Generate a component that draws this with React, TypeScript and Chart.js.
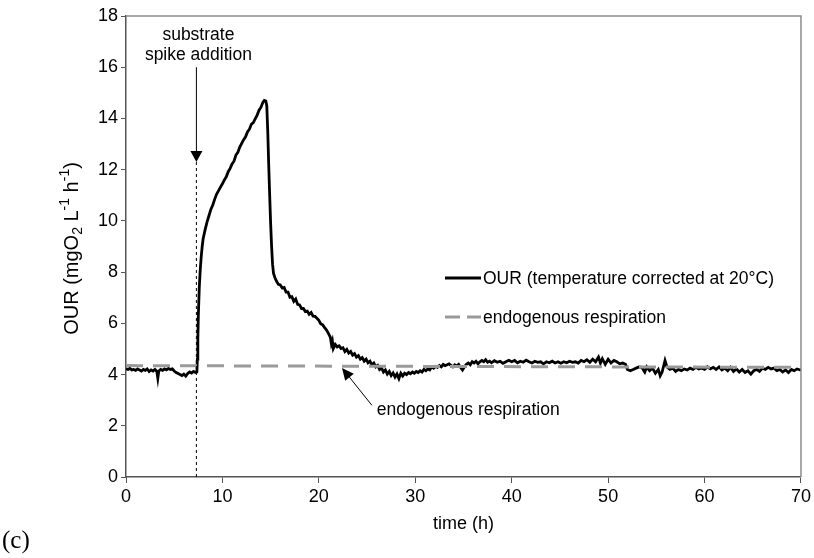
import { useEffect, useRef } from "react";
import { Chart, registerables } from "chart.js";

Chart.register(...registerables);

const SANS = '"Liberation Sans", Arial, Helvetica, sans-serif';
const SERIF = '"Liberation Serif", "Times New Roman", serif';

// ---- data ----
const xTicks = [0, 10, 20, 30, 40, 50, 60, 70];
const yTicks = [0, 2, 4, 6, 8, 10, 12, 14, 16, 18];

const seriesLabels = ["OUR (temperature corrected at 20°C)", "endogenous respiration"];

// OUR before the spike (time h, value)
const ourBaseline: number[][] = [
  [0.0, 4.22], [0.2, 4.2], [0.4, 4.24], [0.6, 4.18], [0.8, 4.2], [1.0, 4.16], [1.2, 4.22], [1.4, 4.18],
  [1.6, 4.14], [1.8, 4.2], [2.0, 4.16], [2.2, 4.22], [2.4, 4.12], [2.6, 4.18], [2.8, 4.14], [3.0, 4.2],
  [3.2, 4.12], [3.3, 3.86], [3.4, 4.14], [3.6, 4.2], [3.8, 4.16], [4.0, 4.22], [4.2, 4.18], [4.4, 4.24],
  [4.6, 4.2], [4.8, 4.22], [5.0, 4.14], [5.2, 4.08], [5.4, 4.04], [5.6, 4.0], [5.8, 3.96], [6.0, 4.02],
  [6.2, 3.94], [6.4, 4.04], [6.6, 4.1], [6.8, 4.06], [7.0, 4.12], [7.2, 4.08], [7.35, 4.1],
];

// OUR rise after the spike, peak and fall
const ourPeak: number[][] = [
  [7.4, 4.6], [7.45, 5.4], [7.5, 6.3], [7.6, 7.4], [7.7, 8.1], [7.8, 8.6], [7.9, 9.0], [8.0, 9.3],
  [8.2, 9.65], [8.4, 9.95], [8.6, 10.2], [8.8, 10.45], [9.0, 10.62], [9.2, 10.85], [9.4, 11.05],
  [9.6, 11.18], [9.8, 11.32], [10.0, 11.45], [10.2, 11.6], [10.4, 11.72], [10.6, 11.92], [10.8, 12.05],
  [11.0, 12.22], [11.2, 12.33], [11.4, 12.57], [11.6, 12.68], [11.8, 12.88], [12.0, 13.03], [12.2, 13.17],
  [12.4, 13.28], [12.6, 13.47], [12.8, 13.58], [13.0, 13.77], [13.2, 13.84], [13.4, 13.98], [13.6, 14.13],
  [13.8, 14.32], [14.0, 14.44], [14.2, 14.63], [14.35, 14.7], [14.5, 14.68], [14.6, 14.5], [14.7, 13.5],
  [14.8, 12.2], [14.9, 11.0], [15.0, 9.9], [15.1, 9.0], [15.2, 8.3], [15.3, 7.95], [15.45, 7.78],
];

// OUR decay back to the endogenous level
const ourDecay: number[][] = [
  [15.6, 7.65], [15.8, 7.52], [16.0, 7.5], [16.2, 7.38], [16.4, 7.4], [16.6, 7.22], [16.8, 7.22],
  [17.0, 7.02], [17.2, 7.04], [17.4, 6.86], [17.6, 6.95], [17.8, 6.74], [18.0, 6.72], [18.2, 6.58],
  [18.4, 6.58], [18.6, 6.46], [18.8, 6.48], [19.0, 6.35], [19.2, 6.42], [19.4, 6.28], [19.6, 6.27],
  [19.8, 6.2], [20.0, 6.12], [20.2, 5.98], [20.4, 5.94], [20.6, 5.83], [20.8, 5.74], [21.0, 5.6],
  [21.2, 5.45], [21.3, 5.2], [21.4, 5.32], [21.5, 5.02], [21.7, 5.18], [21.9, 5.08], [22.1, 5.12],
  [22.3, 5.02], [22.5, 5.05], [22.7, 4.9], [22.9, 4.98], [23.1, 4.84], [23.3, 4.9], [23.5, 4.76],
  [23.7, 4.82], [23.9, 4.68], [24.1, 4.74], [24.3, 4.6], [24.5, 4.66], [24.7, 4.52], [24.9, 4.6],
  [25.1, 4.46], [25.3, 4.52], [25.5, 4.38], [25.7, 4.45], [25.9, 4.3], [26.1, 4.36], [26.3, 4.2],
  [26.5, 4.26], [26.7, 4.1], [26.9, 4.18], [27.1, 4.02], [27.3, 4.12], [27.5, 3.96], [27.7, 4.06],
  [27.9, 3.9], [28.1, 4.02], [28.3, 3.84], [28.5, 4.05], [28.7, 3.94], [28.9, 4.05],
];

// OUR tail at endogenous level
const ourTail: number[][] = [
  [29.1, 4.0], [29.3, 4.08], [29.5, 4.03], [29.7, 4.1], [29.9, 4.05], [30.1, 4.12], [30.3, 4.08],
  [30.5, 4.15], [30.7, 4.1], [30.9, 4.2], [31.1, 4.15], [31.3, 4.22], [31.5, 4.18], [31.7, 4.3],
  [31.9, 4.25], [32.1, 4.32], [32.3, 4.28], [32.5, 4.35], [32.7, 4.3], [32.9, 4.4], [33.1, 4.35],
  [33.3, 4.38], [33.5, 4.42], [33.7, 4.36], [33.9, 4.3], [34.1, 4.38], [34.3, 4.33], [34.5, 4.4],
  [34.7, 4.28], [34.9, 4.18], [35.1, 4.3], [35.3, 4.4], [35.5, 4.45], [35.7, 4.38], [35.9, 4.5],
  [36.1, 4.45], [36.3, 4.52], [36.5, 4.42], [36.7, 4.5], [36.9, 4.55], [37.1, 4.5], [37.3, 4.58],
  [37.5, 4.48], [37.7, 4.52], [37.9, 4.46], [38.2, 4.54], [38.5, 4.48], [38.8, 4.52], [39.1, 4.44],
  [39.4, 4.5], [39.7, 4.56], [40.0, 4.5], [40.3, 4.55], [40.6, 4.46], [40.9, 4.52], [41.2, 4.48],
  [41.5, 4.56], [41.8, 4.5], [42.1, 4.45], [42.4, 4.52], [42.7, 4.48], [43.0, 4.5], [43.3, 4.42],
  [43.6, 4.5], [43.9, 4.46], [44.2, 4.52], [44.5, 4.45], [44.8, 4.5], [45.1, 4.44], [45.4, 4.5],
  [45.7, 4.46], [46.0, 4.52], [46.3, 4.48], [46.6, 4.5], [46.9, 4.45], [47.2, 4.55], [47.5, 4.5],
  [47.8, 4.58], [48.1, 4.48], [48.4, 4.6], [48.7, 4.5], [49.0, 4.68], [49.2, 4.45], [49.4, 4.62],
  [49.7, 4.4], [50.0, 4.6], [50.3, 4.45], [50.6, 4.55], [50.9, 4.5], [51.2, 4.42], [51.5, 4.45],
  [51.8, 4.4], [52.0, 4.2], [52.3, 4.15], [52.6, 4.2], [52.9, 4.25], [53.2, 4.3], [53.5, 4.28],
  [53.8, 4.1], [54.0, 4.3], [54.3, 4.15], [54.6, 4.25], [54.9, 4.05], [55.2, 4.2], [55.4, 3.95],
  [55.6, 4.1], [55.9, 4.55], [56.1, 4.3], [56.4, 4.2], [56.7, 4.25], [57.0, 4.12], [57.3, 4.2],
  [57.6, 4.15], [57.9, 4.22], [58.2, 4.18], [58.5, 4.25], [58.8, 4.2], [59.1, 4.28], [59.4, 4.22],
  [59.7, 4.25], [60.0, 4.2], [60.3, 4.3], [60.6, 4.22], [60.9, 4.28], [61.2, 4.2], [61.5, 4.3],
  [61.8, 4.18], [62.1, 4.25], [62.4, 4.15], [62.7, 4.28], [63.0, 4.12], [63.3, 4.22], [63.6, 4.1],
  [63.9, 4.2], [64.2, 4.08], [64.5, 4.15], [64.8, 4.02], [65.1, 4.15], [65.4, 4.2], [65.7, 4.12],
  [66.0, 4.25], [66.3, 4.2], [66.6, 4.28], [66.9, 4.22], [67.2, 4.25], [67.5, 4.15], [67.8, 4.2],
  [68.1, 4.1], [68.4, 4.18], [68.7, 4.08], [69.0, 4.2], [69.3, 4.15], [69.6, 4.22], [69.9, 4.18],
  [70.0, 4.2],
];

// endogenous respiration level (time h, value)
const endogenous: number[][] = [[0, 4.35], [70, 4.28]];

// annotation anchors (data coordinates)
const spikeTime = 7.3;
const spikeArrowFrom = 16.0;
const spikeArrowTo = 12.3;
const endoArrowTail = [25.5, 2.8];
const endoArrowTip = [22.4, 4.26];
const endoLabelAt = [26.0, 2.62];

const toPoints = (arr: number[][]) => arr.map(([x, y]) => ({ x, y }));

function arrowHead(ctx: CanvasRenderingContext2D, x0: number, y0: number, x1: number, y1: number, len: number, half: number) {
  const a = Math.atan2(y1 - y0, x1 - x0);
  ctx.beginPath();
  ctx.moveTo(x1, y1);
  ctx.lineTo(x1 - len * Math.cos(a) + half * Math.sin(a), y1 - len * Math.sin(a) - half * Math.cos(a));
  ctx.lineTo(x1 - len * Math.cos(a) - half * Math.sin(a), y1 - len * Math.sin(a) + half * Math.cos(a));
  ctx.closePath();
  ctx.fill();
}

const TEXT_FONT = `17.5px ${SANS}`;

const decorPlugin = {
  id: "decor",
  afterDatasetsDraw(chart: any) {
    const ctx: CanvasRenderingContext2D = chart.ctx;
    const xs = chart.scales.x;
    const ys = chart.scales.y;
    const area = chart.chartArea;
    ctx.save();

    // frame top & right
    ctx.strokeStyle = "#8c8c8c";
    ctx.lineWidth = 1.5;
    ctx.beginPath();
    ctx.moveTo(area.left, area.top);
    ctx.lineTo(area.right, area.top);
    ctx.lineTo(area.right, area.bottom);
    ctx.stroke();

    // spike annotation
    const sx = xs.getPixelForValue(spikeTime);
    const yFrom = ys.getPixelForValue(spikeArrowFrom);
    const yTo = ys.getPixelForValue(spikeArrowTo);
    ctx.strokeStyle = "#000";
    ctx.fillStyle = "#000";
    ctx.lineWidth = 1;
    ctx.setLineDash([3, 3]);
    ctx.beginPath();
    ctx.moveTo(sx, yTo);
    ctx.lineTo(sx, ys.getPixelForValue(0));
    ctx.stroke();
    ctx.setLineDash([]);
    ctx.beginPath();
    ctx.moveTo(sx, yFrom);
    ctx.lineTo(sx, yTo - 8);
    ctx.stroke();
    arrowHead(ctx, sx, yFrom, sx, yTo, 11, 6);

    ctx.font = TEXT_FONT;
    ctx.textAlign = "center";
    ctx.textBaseline = "middle";
    ctx.fillText("substrate", sx + 2, 35);
    ctx.fillText("spike addition", sx + 2, 55);

    // endogenous annotation
    const tx = xs.getPixelForValue(endoArrowTail[0]);
    const ty = ys.getPixelForValue(endoArrowTail[1]);
    const hx = xs.getPixelForValue(endoArrowTip[0]);
    const hy = ys.getPixelForValue(endoArrowTip[1]);
    ctx.beginPath();
    ctx.moveTo(tx, ty);
    ctx.lineTo(hx + (tx - hx) * 0.2, hy + (ty - hy) * 0.2);
    ctx.stroke();
    arrowHead(ctx, tx, ty, hx, hy, 12, 5.5);
    ctx.textAlign = "left";
    ctx.fillText("endogenous respiration", xs.getPixelForValue(endoLabelAt[0]), ys.getPixelForValue(endoLabelAt[1]));

    // legend
    const ds = chart.data.datasets;
    const legendX = 445;
    const legendY = [278, 317];
    const order = [1, 0];
    order.forEach((di, i) => {
      const d = ds[di];
      ctx.strokeStyle = d.borderColor;
      ctx.lineWidth = d.borderWidth;
      ctx.setLineDash(d.borderDash ? [15, 7] : []);
      ctx.beginPath();
      ctx.moveTo(legendX, legendY[i]);
      ctx.lineTo(legendX + 36, legendY[i]);
      ctx.stroke();
      ctx.setLineDash([]);
      ctx.fillStyle = "#000";
      ctx.fillText(d.label, legendX + 38, legendY[i] + 1);
    });

    // axis titles
    ctx.font = `18px ${SANS}`;
    ctx.textAlign = "center";
    ctx.fillText("time (h)", (area.left + area.right) / 2, 524);

    ctx.save();
    ctx.translate(72, (area.top + area.bottom) / 2 + 2);
    ctx.rotate(-Math.PI / 2);
    const parts: [string, string][] = [
      ["OUR (mgO", "n"], ["2", "sub"], [" L", "n"], ["-1", "sup"], [" h", "n"], ["-1", "sup"], [")", "n"],
    ];
    const fontFor = (k: string) => (k === "n" ? `20px ${SANS}` : `14px ${SANS}`);
    let total = 0;
    parts.forEach(([t, k]) => { ctx.font = fontFor(k); total += ctx.measureText(t).width; });
    let cx = -total / 2;
    ctx.textAlign = "left";
    parts.forEach(([t, k]) => {
      ctx.font = fontFor(k);
      const dy = k === "sub" ? 6 : k === "sup" ? -7 : 0;
      ctx.fillText(t, cx, dy);
      cx += ctx.measureText(t).width;
    });
    ctx.restore();

    // panel label
    ctx.font = `25px ${SERIF}`;
    ctx.textAlign = "left";
    ctx.fillText("(c)", 2, 541);

    ctx.restore();
  },
};

export default function App() {
  const ref = useRef<HTMLCanvasElement | null>(null);
  useEffect(() => {
    document.body.style.margin = "0";
    const canvas = ref.current;
    if (!canvas) return;
    const chart = new Chart(canvas, {
      type: "line",
      data: {
        datasets: [
          {
            label: seriesLabels[1],
            data: toPoints(endogenous),
            borderColor: "#9a9a9a",
            borderWidth: 3,
            borderDash: [17, 10],
            pointRadius: 0,
            order: 0,
          },
          {
            label: seriesLabels[0],
            data: toPoints([...ourBaseline, ...ourPeak, ...ourDecay, ...ourTail]),
            borderColor: "#000",
            borderWidth: 2.8,
            pointRadius: 0,
            tension: 0,
            order: 1,
          },
        ],
      },
      options: {
        responsive: false,
        animation: false,
        devicePixelRatio: 1,
        layout: { padding: { left: 0, top: 16, right: 13, bottom: 0 } },
        plugins: { legend: { display: false }, tooltip: { enabled: false } },
        scales: {
          x: {
            type: "linear",
            min: 0,
            max: 70,
            afterFit: (s: any) => { s.height = 81; },
            afterBuildTicks: (s: any) => { s.ticks = xTicks.map((v) => ({ value: v })); },
            ticks: { font: { family: SANS, size: 18 }, color: "#000", padding: 3, maxRotation: 0 },
            grid: { drawOnChartArea: false, drawTicks: true, tickLength: 6, color: "#555", lineWidth: 1 },
            border: { display: true, color: "#555", width: 1.5 },
          },
          y: {
            type: "linear",
            min: 0,
            max: 18,
            afterFit: (s: any) => { s.width = 126; },
            afterBuildTicks: (s: any) => { s.ticks = yTicks.map((v) => ({ value: v })); },
            ticks: { font: { family: SANS, size: 18 }, color: "#000", padding: 3 },
            grid: { drawOnChartArea: false, drawTicks: true, tickLength: 5, color: "#555", lineWidth: 1 },
            border: { display: true, color: "#555", width: 1.5 },
          },
        },
      },
      plugins: [decorPlugin],
    });
    return () => chart.destroy();
  }, []);
  return (
    <div style={{ width: 814, height: 558 }}>
      <canvas ref={ref} width={814} height={558} style={{ width: 814, height: 558, display: "block" }} />
    </div>
  );
}
